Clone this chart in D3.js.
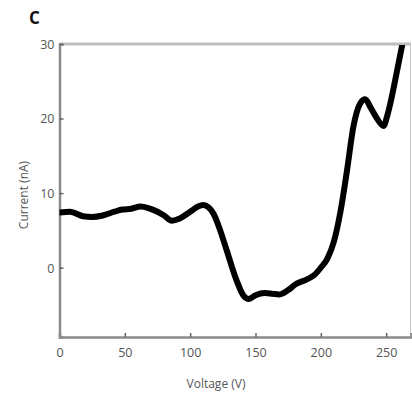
<!DOCTYPE html>
<html>
<head>
<meta charset="utf-8">
<script src="https://cdn.jsdelivr.net/npm/d3@7"></script>
<style>
  html, body { margin: 0; padding: 0; background: #fff; }
  svg { display: block; }
  text { font-family: "Open Sans", "Noto Sans", sans-serif; }
</style>
</head>
<body>
<svg id="chart" width="412" height="398"></svg>
<script>
// Current–voltage sweep
const voltage = [0, 8, 18, 25, 33, 42, 48, 55, 62, 68, 75, 80, 86, 92, 100, 106, 110, 114, 118, 123, 128,
  135.5, 141, 145, 150, 157, 163, 168, 175, 181, 189, 195, 200, 205, 210, 215, 220, 225, 230, 234,
  238, 243, 248, 251, 255, 259, 263, 266];
const current = [7.4, 7.5, 6.9, 6.8, 7.0, 7.5, 7.8, 7.9, 8.2, 8.0, 7.5, 7.0, 6.3, 6.6, 7.5, 8.2, 8.4, 8.1, 7.2, 5.0, 2.3,
  -1.7, -3.8, -4.2, -3.7, -3.4, -3.5, -3.6, -3.0, -2.2, -1.6, -1.0, 0.0, 1.2, 3.5, 7.5, 13.0, 19.0, 22.0, 22.6,
  21.5, 20.0, 19.0, 20.5, 23.5, 27.0, 30.5, 33];
const xTicks = [0, 50, 100, 150, 200, 250];
const yTicks = [0, 10, 20, 30];

const svg = d3.select("#chart");
const m = { left: 59.5, right: 411, top: 44, bottom: 337 };

const x = d3.scaleLinear().domain([0, 269]).range([m.left, m.right]);
const y = d3.scaleLinear().domain([-9.3, 30]).range([m.bottom, m.top]);

// frame: light top and right edges
svg.append("line").attr("x1", m.left).attr("x2", m.right).attr("y1", m.top).attr("y2", m.top)
  .attr("stroke", "#bdbdbd").attr("stroke-width", 3);
svg.append("line").attr("x1", m.right - 0.5).attr("x2", m.right - 0.5).attr("y1", m.top).attr("y2", m.bottom)
  .attr("stroke", "#c8c8c8").attr("stroke-width", 1);

// axes
const xAxis = d3.axisBottom(x).tickValues(xTicks).tickSize(-4).tickPadding(11).tickFormat(d3.format("d"));
const yAxis = d3.axisLeft(y).tickValues(yTicks).tickSize(-4).tickPadding(5).tickFormat(d3.format("d"));

const gx = svg.append("g").attr("transform", `translate(0,${m.bottom})`).call(xAxis);
const gy = svg.append("g").attr("transform", `translate(${m.left},0)`).call(yAxis);

[gx, gy].forEach(g => {
  g.select(".domain").attr("stroke", "#8a8a8a").attr("stroke-width", 2.5);
  g.selectAll(".tick line").attr("stroke", "#666").attr("stroke-width", 1.5);
  g.selectAll(".tick text").attr("fill", "#555").attr("font-size", 12.5);
});
gy.selectAll(".tick text").attr("dy", "0.35em");

// data curve, clipped to plot area
svg.append("clipPath").attr("id", "plot")
  .append("rect").attr("x", m.left).attr("y", m.top + 1).attr("width", m.right - m.left).attr("height", m.bottom - m.top);

const pts = voltage.map((v, i) => [v, current[i]]);
const line = d3.line().x(d => x(d[0])).y(d => y(d[1])).curve(d3.curveMonotoneX);
svg.append("path")
  .attr("clip-path", "url(#plot)")
  .attr("d", line(pts))
  .attr("fill", "none")
  .attr("stroke", "#000")
  .attr("stroke-width", 6)
  .attr("stroke-linejoin", "round")
  .attr("stroke-linecap", "round");

// titles
svg.append("text").attr("x", 216).attr("y", 388).attr("text-anchor", "middle")
  .attr("fill", "#555").attr("font-size", 12).text("Voltage (V)");
svg.append("text").attr("transform", "translate(28,195) rotate(-90)").attr("text-anchor", "middle")
  .attr("fill", "#555").attr("font-size", 12).text("Current (nA)");
svg.append("text").attr("x", 29).attr("y", 24).attr("fill", "#111")
  .attr("font-size", 17).attr("font-weight", "bold").text("C");
</script>
</body>
</html>
